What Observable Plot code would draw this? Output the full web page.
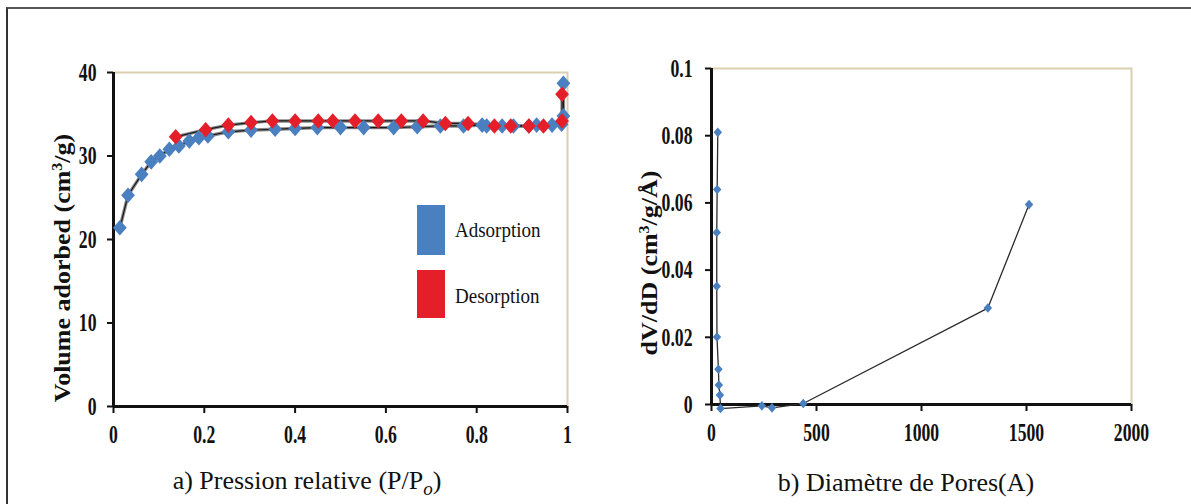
<!DOCTYPE html>
<html>
<head>
<meta charset="utf-8">
<script src="https://cdn.jsdelivr.net/npm/d3@7"></script>
<script src="https://cdn.jsdelivr.net/npm/@observablehq/plot@0.6"></script>
<style>
  html, body { margin: 0; padding: 0; background: #fff; }
  #wrap { position: relative; width: 1191px; height: 504px; overflow: hidden; background: #fff; }
  #border { position: absolute; left: 6px; top: 7px; width: 1200px; height: 600px;
            border-top: 2px solid #555; border-left: 2px solid #333; }
  .ytitle { position: absolute; font-family: "Liberation Serif", serif; font-weight: bold;
            font-size: 26px; white-space: nowrap; transform: translate(-50%, -50%) rotate(-90deg) scale(1, 0.85); color: #111; }
  .cap { position: absolute; font-family: "Liberation Serif", serif; font-size: 26px;
         white-space: nowrap; transform: translate(-50%, -50%); color: #111; }
  .leg { position: absolute; font-family: "Liberation Serif", serif; font-size: 19px;
         white-space: nowrap; transform: translateY(-50%) scale(1, 1.15); transform-origin: left center; color: #111; }
  .sw { position: absolute; width: 28px; }
</style>
</head>
<body>
<div id="wrap">
  <div id="border"></div>
</div>
<script>
// ---- data: (a) N2 isotherm ----
const adsP = [0.014, 0.032, 0.062, 0.083, 0.102, 0.123, 0.144, 0.167, 0.188, 0.208, 0.253, 0.303, 0.356, 0.400, 0.449, 0.500, 0.551, 0.617, 0.669, 0.720, 0.771, 0.812, 0.822, 0.856, 0.881, 0.915, 0.932, 0.966, 0.987, 0.991, 0.991];
const adsV = [21.4, 25.3, 27.8, 29.3, 30.0, 30.8, 31.2, 31.8, 32.2, 32.4, 32.9, 33.1, 33.2, 33.3, 33.4, 33.4, 33.4, 33.4, 33.5, 33.6, 33.6, 33.7, 33.6, 33.6, 33.6, 33.6, 33.7, 33.7, 33.8, 34.8, 38.7];
const desP = [0.137, 0.203, 0.253, 0.303, 0.350, 0.400, 0.451, 0.483, 0.532, 0.583, 0.634, 0.682, 0.731, 0.781, 0.839, 0.875, 0.915, 0.947, 0.988, 0.988];
const desV = [32.3, 33.15, 33.7, 34.0, 34.2, 34.2, 34.2, 34.2, 34.2, 34.2, 34.2, 34.2, 33.9, 33.9, 33.6, 33.6, 33.6, 33.6, 34.2, 37.4];
const xTicksA = [0, 0.2, 0.4, 0.6, 0.8, 1];
const yTicksA = [0, 10, 20, 30, 40];
const seriesNames = ["Adsorption", "Desorption"];
const seriesColors = ["#4a7fc0", "#e41f2a"];

// ---- data: (b) pore size distribution ----
const poreD = [30, 27, 25, 25, 26, 33, 35, 40, 43, 240, 288, 437, 1316, 1512];
const poreDV = [0.081, 0.064, 0.0512, 0.0352, 0.0201, 0.0105, 0.0058, 0.0028, -0.0012, -0.0004, -0.001, 0.0003, 0.0287, 0.0595];
const xTicksB = [0, 500, 1000, 1500, 2000];
const yTicksB = [0, 0.02, 0.04, 0.06, 0.08, 0.1];

const ads = adsP.map((p, i) => ({p, v: adsV[i]}));
const des = desP.map((p, i) => ({p, v: desV[i]}));
const pore = poreD.map((d, i) => ({d, v: poreDV[i]}));

function diamondSymbol(ratio) {
  return {
    draw(ctx, size) {
      const r = Math.sqrt(size / Math.PI);
      const w = r * ratio;
      ctx.moveTo(0, -r); ctx.lineTo(w, 0); ctx.lineTo(0, r); ctx.lineTo(-w, 0); ctx.closePath();
    }
  };
}
const dia = diamondSymbol(0.88);

const baseStyle = {fontFamily: "Liberation Serif, serif", fontSize: "26px", fontWeight: "bold", color: "#111", background: "transparent", overflow: "visible"};
const fmt = d => String(d);

const chartA = Plot.plot({
  width: 600, height: 460,
  marginLeft: 113, marginRight: 33, marginTop: 72, marginBottom: 54,
  style: baseStyle,
  x: {domain: [0, 1]},
  y: {domain: [0, 40]},
  marks: [
    Plot.frame({stroke: "#d8d0ae", strokeWidth: 2}),
    Plot.axisX({ticks: xTicksA, tickFormat: fmt, tickSize: 7, tickPadding: 11, strokeWidth: 2, color: "#111", label: null}),
    Plot.axisY({ticks: yTicksA, tickFormat: fmt, tickSize: 6, tickPadding: 11, strokeWidth: 2, color: "#111", label: null}),
    Plot.ruleX([0], {strokeWidth: 3, stroke: "#111"}),
    Plot.ruleY([0], {strokeWidth: 3, stroke: "#111"}),
    Plot.line(ads, {x: "p", y: "v", stroke: "#8a8a8a", strokeWidth: 3.4}),
    Plot.line(des, {x: "p", y: "v", stroke: "#8a8a8a", strokeWidth: 3.4}),
    Plot.line(ads, {x: "p", y: "v", stroke: "#1a1a1a", strokeWidth: 1.2}),
    Plot.line(des, {x: "p", y: "v", stroke: "#1a1a1a", strokeWidth: 1.2}),
    Plot.dot(ads, {x: "p", y: "v", r: 7.8, symbol: dia, fill: seriesColors[0], stroke: null}),
    Plot.dot(des, {x: "p", y: "v", r: 7.8, symbol: dia, fill: seriesColors[1], stroke: null})
  ]
});

const chartB = Plot.plot({
  width: 591, height: 460,
  marginLeft: 111, marginRight: 60, marginTop: 68, marginBottom: 56,
  style: baseStyle,
  x: {domain: [0, 2000]},
  y: {domain: [0, 0.1]},
  marks: [
    Plot.frame({stroke: "#d8d0ae", strokeWidth: 2}),
    Plot.axisX({ticks: xTicksB, tickFormat: fmt, tickSize: 7, tickPadding: 11, strokeWidth: 2, color: "#111", label: null}),
    Plot.axisY({ticks: yTicksB, tickFormat: fmt, tickSize: 6, tickPadding: 13, strokeWidth: 2, color: "#111", label: null}),
    Plot.ruleX([0], {strokeWidth: 3, stroke: "#111"}),
    Plot.ruleY([0], {strokeWidth: 3, stroke: "#111"}),
    Plot.line(pore, {x: "d", y: "v", stroke: "#2a2a2a", strokeWidth: 1.3}),
    Plot.dot(pore, {x: "d", y: "v", r: 4.8, symbol: dia, fill: "#4a7fc0", stroke: null})
  ]
});

// condense tick labels horizontally (reference uses a narrow, tall bold serif)
function condense(svg, s) {
  svg.querySelectorAll("g[aria-label$='tick label'] text").forEach(t => {
    t.setAttribute("transform", (t.getAttribute("transform") || "") + ` scale(${s},1)`);
  });
}
condense(chartA, 0.68);
condense(chartB, 0.68);

const wrap = document.getElementById("wrap");
chartA.style.position = "absolute"; chartA.style.left = "0px"; chartA.style.top = "0px";
chartB.style.position = "absolute"; chartB.style.left = "600px"; chartB.style.top = "0px";
wrap.appendChild(chartA);
wrap.appendChild(chartB);

function addDiv(cls, html, css) {
  const d = document.createElement("div");
  d.className = cls;
  d.innerHTML = html;
  Object.assign(d.style, css);
  wrap.appendChild(d);
  return d;
}
// axis titles
addDiv("ytitle", "Volume adorbed (cm<sup style='font-size:16px'>3</sup>/g)", {left: "63px", top: "268px"});
addDiv("ytitle", "dV/dD (cm<sup style='font-size:16px'>3</sup>/g/Å)", {left: "650px", top: "263px"});
// legend
addDiv("sw", "", {left: "417px", top: "205px", height: "50px", background: seriesColors[0]});
addDiv("sw", "", {left: "417px", top: "270px", height: "48px", background: seriesColors[1]});
addDiv("leg", seriesNames[0], {left: "455px", top: "230px"});
addDiv("leg", seriesNames[1], {left: "455px", top: "296px"});
// captions
addDiv("cap", "a) Pression relative (P/P<sub style='font-style:italic;font-size:19px'>o</sub>)", {left: "307px", top: "483px"});
addDiv("cap", "b) Diamètre de Pores(A)", {left: "906px", top: "483px"});
</script>
</body>
</html>
